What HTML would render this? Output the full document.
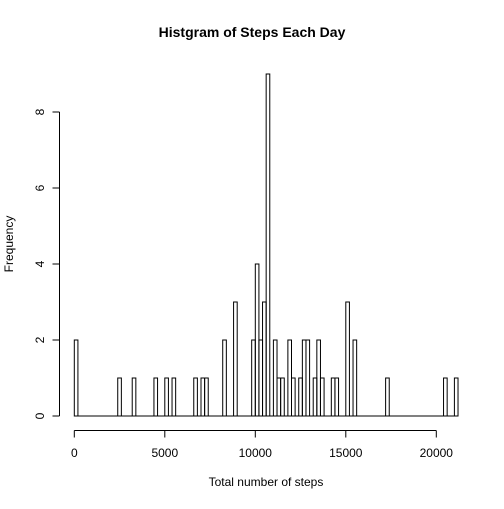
<!DOCTYPE html>
<html><head><meta charset="utf-8"><style>
body{margin:0;background:#fff}
svg text{font-family:"Liberation Sans",Arial,sans-serif;fill:#000}
</style></head><body>
<svg id="c" width="504" height="504" xmlns="http://www.w3.org/2000/svg">
<text x="252" y="37" text-anchor="middle" font-size="14" font-weight="bold">Histgram of Steps Each Day</text>
<text x="266" y="486" text-anchor="middle" font-size="12">Total number of steps</text>
<text transform="translate(13,244) rotate(-90)" text-anchor="middle" font-size="12">Frequency</text>
<g id="bars"></g>
<g id="axes"></g>
</svg>
<script>
const binWidth = 200;
const nBins = 106;
const binStarts = [0,2400,3200,4400,5000,5400,6600,7000,7200,8200,8800,9800,10000,10200,10400,10600,11000,11200,11400,11800,12000,12400,12600,12800,13200,13400,13600,14200,14400,15000,15400,17200,20400,21000];
const counts    = [2,1,1,1,1,1,1,1,1,2,3,2,4,2,3,9,2,1,1,2,1,1,2,2,1,2,1,1,1,3,2,1,1,1];
const xTicks = [0,5000,10000,15000,20000];
const yTicks = [0,2,4,6,8];

const NS="http://www.w3.org/2000/svg";
const xs = v => 74.3 + (v/20000)*362;
const ys = v => 416 - v*38;
function mk(tag, attrs, parent){const e=document.createElementNS(NS,tag);for(const k in attrs)e.setAttribute(k,attrs[k]);parent.appendChild(e);return e;}
const bars=document.getElementById('bars'), axes=document.getElementById('axes');
const base=mk('line',{x1:xs(0),x2:xs(nBins*binWidth),y1:ys(0),y2:ys(0),stroke:'#000','stroke-width':1},bars);


const full = new Array(nBins).fill(0);
binStarts.forEach((s,i)=>{full[Math.round(s/binWidth)] = counts[i];});
full.forEach((c,i)=>{
  if(c<=0) return;
  const x0=xs(i*binWidth), x1=xs((i+1)*binWidth);
  const r=mk('rect',{x:x0,y:ys(c),width:x1-x0,height:ys(0)-ys(c),fill:'none',stroke:'#000','stroke-width':1},bars);
  
  
});
const xl=mk('line',{x1:xs(0),x2:xs(20000),y1:430.5,y2:430.5,stroke:'#000'},axes);


xTicks.forEach(t=>{
  mk('line',{x1:xs(t),x2:xs(t),y1:430.5,y2:437.5,stroke:'#000'},axes);
  const tx=mk('text',{x:xs(t),y:457,'text-anchor':'middle','font-size':12},axes);
  tx.textContent=t;
  
  
});
const yl=mk('line',{x1:59.5,x2:59.5,y1:ys(0),y2:ys(8),stroke:'#000'},axes);


yTicks.forEach(t=>{
  mk('line',{x1:52.5,x2:59.5,y1:ys(t),y2:ys(t),stroke:'#000'},axes);
  const tx=mk('text',{transform:`translate(44,${ys(t)}) rotate(-90)`,'text-anchor':'middle','font-size':12},axes);
  tx.textContent=t;
  
  
});
</script>
</body></html>
